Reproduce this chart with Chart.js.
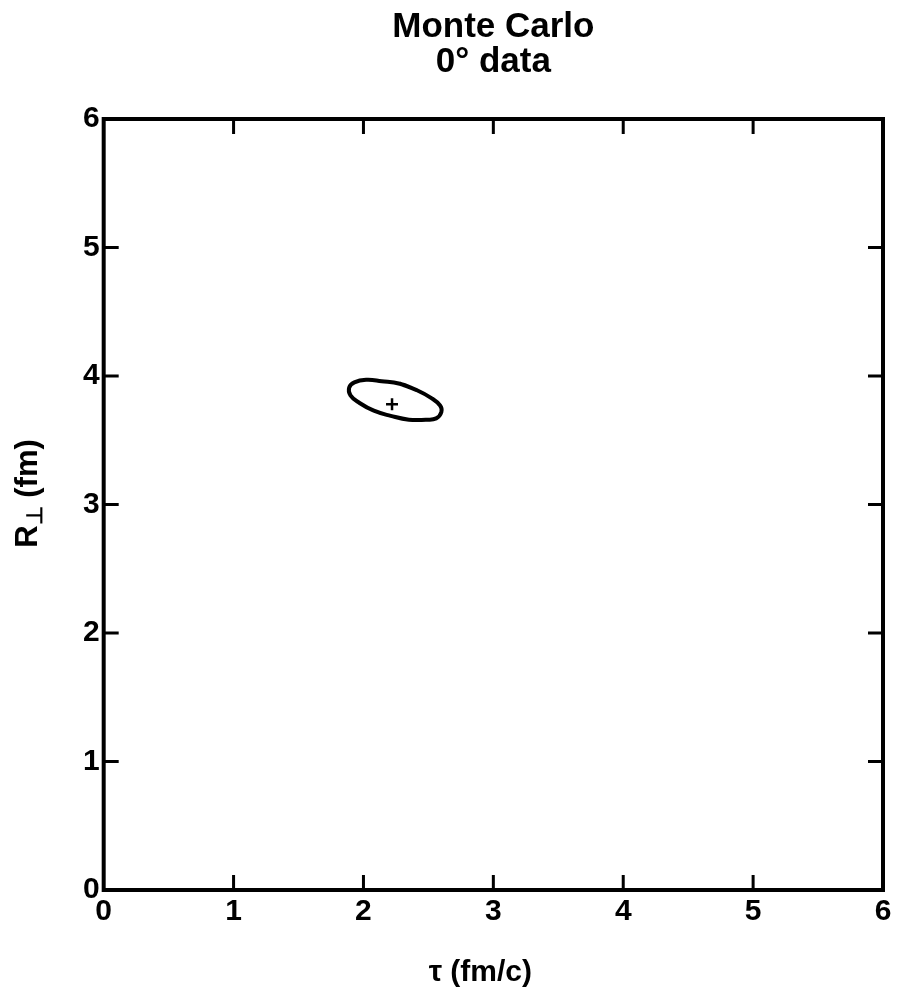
<!DOCTYPE html>
<html>
<head>
<meta charset="utf-8">
<script src="https://cdn.jsdelivr.net/npm/chart.js@4.4.1/dist/chart.umd.min.js"></script>
<style>
  html, body { margin: 0; padding: 0; background: #fff; }
  #wrap { width: 900px; height: 997px; }
</style>
</head>
<body>
<div id="wrap"><canvas id="plot"></canvas></div>
<script>
// axis ranges and tick values
const tauTicks = [0, 1, 2, 3, 4, 5, 6];
const rTicks = [0, 1, 2, 3, 4, 5, 6];

// contour around the best fit (tau in fm/c, R_perp in fm); the first two points
// are repeated at the end so the closed curve has no corner where it joins
const contourTau = [2.28, 2.41, 2.52, 2.59, 2.60, 2.56, 2.48, 2.35, 2.21, 2.08, 1.97, 1.90, 1.89, 1.93, 2.02, 2.14, 2.28, 2.41];
const contourR   = [3.94, 3.89, 3.83, 3.77, 3.72, 3.67, 3.66, 3.66, 3.69, 3.73, 3.79, 3.85, 3.91, 3.95, 3.97, 3.96, 3.94, 3.89];

// best fit point
const bestTau = [2.22];
const bestR = [3.78];

const FONT = '"Liberation Sans", Arial, Helvetica, sans-serif';

function toPoints(xs, ys) {
  return xs.map((x, i) => ({ x: x, y: ys[i] }));
}

// frame on all four sides, inward tick marks and both axis titles
const framePlugin = {
  id: 'frame',
  afterDraw(chart) {
    const ctx = chart.ctx;
    const a = chart.chartArea;
    const xs = chart.scales.x;
    const ys = chart.scales.y;
    const tickLen = 15;
    ctx.save();
    ctx.strokeStyle = '#000';
    ctx.lineWidth = 3;
    ctx.beginPath();
    tauTicks.slice(1, -1).forEach(v => {
      const px = xs.getPixelForValue(v);
      ctx.moveTo(px, a.bottom);
      ctx.lineTo(px, a.bottom - tickLen);
      ctx.moveTo(px, a.top);
      ctx.lineTo(px, a.top + tickLen);
    });
    rTicks.slice(1, -1).forEach(v => {
      const py = ys.getPixelForValue(v);
      ctx.moveTo(a.left, py);
      ctx.lineTo(a.left + tickLen, py);
      ctx.moveTo(a.right, py);
      ctx.lineTo(a.right - tickLen, py);
    });
    ctx.stroke();
    ctx.lineWidth = 4;
    ctx.lineJoin = 'miter';
    ctx.strokeRect(a.left, a.top, a.right - a.left, a.bottom - a.top);

    ctx.fillStyle = '#000';
    ctx.textBaseline = 'middle';
    const big = 'bold 31px ' + FONT, small = 'bold 22px ' + FONT;

    // x axis title
    ctx.font = 'bold 30px ' + FONT;
    ctx.textAlign = 'center';
    ctx.fillText('\u03C4 (fm/c)', (a.left + a.right) / 2 - 13, a.bottom + 83);

    // y axis title: R with a perpendicular sign as subscript
    ctx.textAlign = 'left';
    ctx.translate(28, (a.top + a.bottom) / 2 - 11);
    ctx.rotate(-Math.PI / 2);
    const r = 'R', sub = '\u22A5', rest = ' (fm)';
    ctx.font = big;
    const wR = ctx.measureText(r).width;
    const wRest = ctx.measureText(rest).width;
    ctx.font = small;
    const wSub = ctx.measureText(sub).width;
    const x0 = -(wR + wSub + wRest) / 2;
    ctx.font = big;
    ctx.fillText(r, x0, 0);
    ctx.font = small;
    ctx.fillText(sub, x0 + wR, 8);
    ctx.font = big;
    ctx.fillText(rest, x0 + wR + wSub, 0);
    ctx.restore();
  }
};

new Chart(document.getElementById('plot'), {
  type: 'scatter',
  data: {
    datasets: [
      {
        label: 'contour',
        data: toPoints(contourTau, contourR),
        showLine: true,
        borderColor: '#000',
        borderWidth: 4,
        tension: 0.45,
        pointRadius: 0,
        fill: false
      },
      {
        label: 'best fit',
        data: toPoints(bestTau, bestR),
        pointStyle: 'cross',
        pointRadius: 6,
        borderWidth: 2.5,
        borderColor: '#000',
        backgroundColor: '#000'
      }
    ]
  },
  options: {
    responsive: true,
    maintainAspectRatio: false,
    animation: false,
    devicePixelRatio: 1,
    layout: { padding: { left: 79, right: 17, top: 10, bottom: 63 } },
    plugins: {
      legend: { display: false },
      tooltip: { enabled: false },
      title: {
        display: true,
        fullSize: false,
        text: ['Monte Carlo', '0\u00B0 data'],
        color: '#000',
        font: { family: FONT, size: 35, weight: 'bold', lineHeight: 1.0 },
        padding: { top: 0, bottom: 39 }
      }
    },
    scales: {
      x: {
        type: 'linear',
        min: 0,
        max: 6,
        afterBuildTicks: s => { s.ticks = tauTicks.map(v => ({ value: v })); },
        grid: { display: false, drawTicks: false },
        border: { display: false },
        ticks: { color: '#000', padding: 4, font: { family: FONT, size: 30, weight: 'bold' } }
      },
      y: {
        type: 'linear',
        min: 0,
        max: 6,
        afterBuildTicks: s => { s.ticks = rTicks.map(v => ({ value: v })); },
        grid: { display: false, drawTicks: false },
        border: { display: false },
        ticks: { color: '#000', padding: 4, font: { family: FONT, size: 30, weight: 'bold' } }
      }
    }
  },
  plugins: [framePlugin]
});
</script>
</body>
</html>
